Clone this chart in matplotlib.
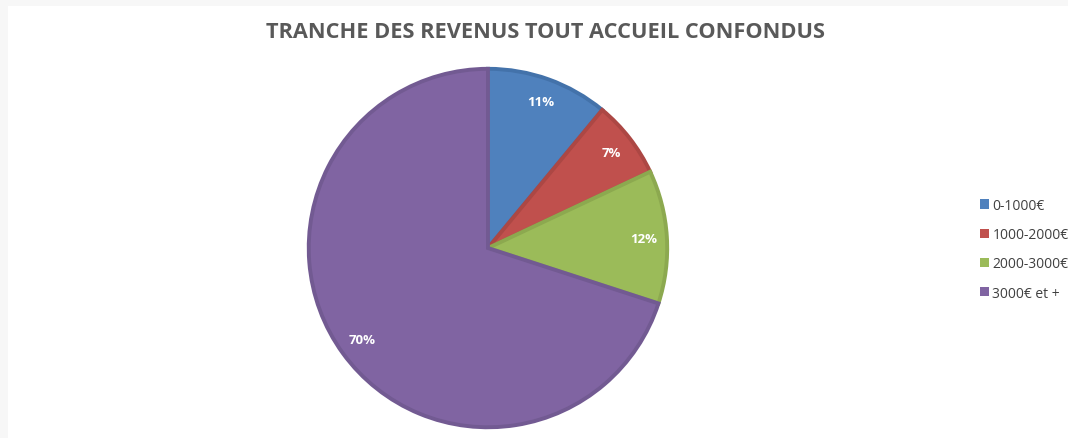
import matplotlib
matplotlib.use("Agg")
import matplotlib.pyplot as plt
from matplotlib.patches import Rectangle, Patch

labels = ["0-1000€", "1000-2000€", "2000-3000€", "3000€ et +"]
values = [11, 7, 12, 70]
colors = ["#4F81BD", "#C0504D", "#9BBB59", "#8064A2"]
edges = ["#4372AA", "#AC4744", "#8CA94F", "#725A92"]

plt.rcParams['font.family'] = ['Open Sans', 'DejaVu Sans']

fig = plt.figure(figsize=(10.68, 4.39), dpi=100)
fig.patch.set_facecolor("#F7F7F7")
fig.patches.append(Rectangle((8 / 1068, 0), 1, 1 - 7 / 439, transform=fig.transFigure,
                             facecolor="white", edgecolor="none", zorder=-5))

ax = fig.add_axes([0.2865, 0.0182, 0.3408, 0.829])
ax.set_zorder(2)
ax.patch.set_visible(False)
wedges, texts, autotexts = ax.pie(values, colors=colors, startangle=90, counterclock=False,
                                  radius=0.985, autopct="%d%%", pctdistance=0.87,
                                  wedgeprops=dict(linewidth=2.8),
                                  textprops=dict(color="white", fontsize=9.5, fontweight="bold"))
for w, e in zip(wedges, edges):
    w.set_edgecolor(e)
ax.set_xlim(-1, 1)
ax.set_ylim(-1, 1)
ax.set_aspect("equal")
ax.axis("off")

fig.text(545 / 1068, 1 - 32 / 439, "TRANCHE DES REVENUS TOUT ACCUEIL CONFONDUS",
         ha="center", va="center", fontsize=15.7, fontweight="bold", color="#595959")

handles = [Patch(facecolor=c, edgecolor="none") for c in colors]
fig.legend(handles, labels, loc="upper left", bbox_to_anchor=(980 / 1068, 1 - 199 / 439),
           frameon=False, fontsize=10, labelspacing=1.02, handlelength=0.65,
           handleheight=0.65, handletextpad=0.25, borderaxespad=0, borderpad=0)
for t in fig.legends[0].get_texts():
    t.set_color("#404040")

fig.savefig("out.png", dpi=100, facecolor=fig.get_facecolor())
